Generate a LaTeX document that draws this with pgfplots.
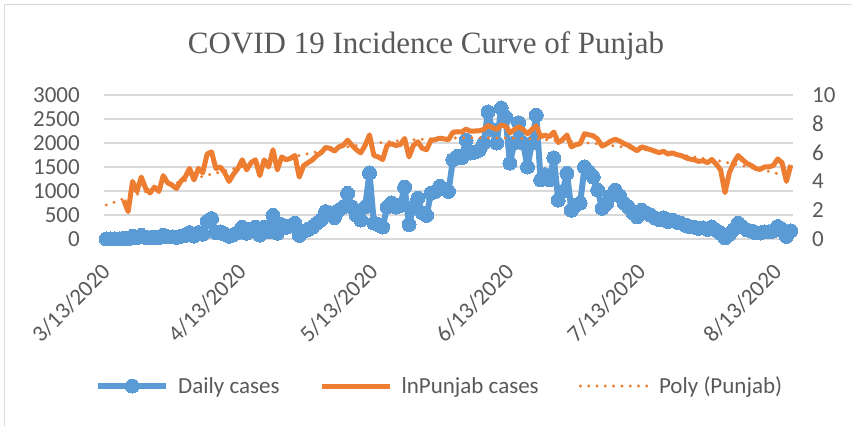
\documentclass[border=0pt]{standalone}
\usepackage{fontspec}
\setmainfont{Carlito}
\newfontfamily\titlefont{Liberation Serif}
\usepackage{pgfplots}
\usepackage{pgfplotstable}
\pgfplotsset{compat=1.18}
\definecolor{cblue}{HTML}{5B9BD5}
\definecolor{corange}{HTML}{ED7D31}
\definecolor{cgrid}{HTML}{D9D9D9}
\definecolor{ctext}{HTML}{595959}

\pgfplotstableread{
d v
0 2
1 1
2 4
3 1
4 15
5 7
6 55
7 27
8 74
9 33
10 25
11 37
12 27
13 81
14 49
15 43
16 33
17 55
18 74
19 134
20 60
21 134
22 100
23 365
24 424
25 134
26 148
27 100
28 55
29 90
30 134
31 245
32 121
33 200
34 245
35 81
36 245
37 148
38 493
39 121
40 300
41 245
42 270
43 330
44 74
45 164
46 200
47 245
48 330
49 400
50 570
51 545
52 445
53 600
54 665
55 950
56 670
57 493
58 395
59 665
60 1375
61 330
62 300
63 250
64 665
65 750
66 665
67 700
68 1080
69 300
70 665
71 850
72 545
73 493
74 950
75 990
76 1100
77 1040
78 990
79 1650
80 1720
81 1690
82 2060
83 1790
84 1810
85 1850
86 2000
87 2650
88 2270
89 2000
90 2730
91 2540
92 1580
93 2000
94 2420
95 2000
96 1500
97 2000
98 2580
99 1230
100 1340
101 1230
102 1690
103 810
104 990
105 1370
106 600
107 700
108 750
109 1500
110 1400
111 1290
112 1020
113 640
114 735
115 900
116 1020
117 900
118 750
119 665
120 545
121 460
122 600
123 545
124 500
125 445
126 403
127 440
128 365
129 395
130 350
131 330
132 285
133 257
134 245
135 220
136 230
137 200
138 250
139 181
140 121
141 25
142 100
143 200
144 330
145 245
146 190
147 164
148 134
149 125
150 148
151 150
152 164
153 260
154 200
155 55
156 170
}\dailytab

\pgfplotstableread{
d v
4 2.7
5 1.9
6 4.0
7 3.3
8 4.3
9 3.5
10 3.2
11 3.6
12 3.3
13 4.4
14 3.9
15 3.75
16 3.5
17 4.0
18 4.3
19 4.9
20 4.1
21 4.9
22 4.6
23 5.9
24 6.05
25 4.9
26 5.0
27 4.6
28 4.0
29 4.5
30 4.9
31 5.5
32 4.8
33 5.3
34 5.5
35 4.4
36 5.5
37 5.0
38 6.2
39 4.8
40 5.7
41 5.5
42 5.6
43 5.8
44 4.3
45 5.1
46 5.3
47 5.5
48 5.8
49 6.0
50 6.35
51 6.3
52 6.1
53 6.4
54 6.5
55 6.86
56 6.5
57 6.2
58 5.98
59 6.5
60 7.23
61 5.8
62 5.7
63 5.52
64 6.5
65 6.62
66 6.5
67 6.55
68 6.98
69 5.7
70 6.5
71 6.75
72 6.3
73 6.2
74 6.86
75 6.9
76 7.0
77 6.95
78 6.9
79 7.41
80 7.45
81 7.43
82 7.63
83 7.49
84 7.5
85 7.52
86 7.6
87 7.88
88 7.73
89 7.6
90 7.91
91 7.84
92 7.37
93 7.6
94 7.79
95 7.6
96 7.31
97 7.6
98 7.86
99 7.11
100 7.2
101 7.11
102 7.43
103 6.7
104 6.9
105 7.22
106 6.4
107 6.55
108 6.62
109 7.31
110 7.24
111 7.16
112 6.93
113 6.46
114 6.6
115 6.8
116 6.93
117 6.8
118 6.62
119 6.5
120 6.3
121 6.13
122 6.4
123 6.3
124 6.21
125 6.1
126 6.0
127 6.09
128 5.9
129 5.98
130 5.86
131 5.8
132 5.65
133 5.55
134 5.5
135 5.39
136 5.44
137 5.3
138 5.52
139 5.2
140 4.8
141 3.22
142 4.6
143 5.3
144 5.8
145 5.5
146 5.25
147 5.1
148 4.9
149 4.83
150 5.0
151 5.01
152 5.1
153 5.56
154 5.3
155 4.0
156 5.14
}\lntab

\pgfplotstableread{
d v
0 2.36
4 2.8
8 3.2
12 3.55
16 3.9
20 4.2
24 4.5
28 4.8
32 5.1
36 5.35
40 5.6
44 5.8
48 6.05
52 6.25
56 6.45
60 6.6
64 6.75
68 6.85
72 6.93
76 6.98
80 7.02
84 7.03
88 7.03
92 7.01
96 6.97
100 6.9
104 6.82
108 6.72
112 6.6
116 6.46
120 6.31
124 6.15
128 5.98
132 5.8
136 5.6
140 5.4
144 5.15
148 4.9
152 4.62
156 4.3
}\polytab

\begin{document}
\begin{tikzpicture}
\path[use as bounding box] (0,0) rectangle (852pt,426pt);
\draw[cgrid, line width=1pt] (4pt,0pt) -- (4pt,421pt) -- (852pt,421pt);
\node[anchor=base, text=ctext, font=\titlefont\fontsize{31}{36}\selectfont] at (426pt,372pt) {COVID 19 Incidence Curve of Punjab};
\begin{axis}[
  at={(104pt,187pt)}, anchor=south west,
  scale only axis, width=689pt, height=144pt,
  xmin=-0.5, xmax=156.5, ymin=0, ymax=3000,
  ytick={0,500,...,3000},
  xtick={0,31,61,92,122,153},
  xticklabels={3/13/2020,4/13/2020,5/13/2020,6/13/2020,7/13/2020,8/13/2020},
  ymajorgrids, grid style={cgrid, line width=1.6pt},
  axis line style={draw=none},
  major tick length=0pt,
  tick label style={font=\fontsize{23}{27}\selectfont, text=ctext},
  /pgf/number format/assume math mode=true,
  /pgf/number format/1000 sep={},
  yticklabel style={anchor=east, inner sep=0pt, xshift=-24pt},
  xticklabel style={yshift=-29pt, rotate=45, anchor=east, inner sep=0pt},
  clip=false,
]
\addplot[cblue, line width=6pt, line join=round, mark=*, mark size=7pt, mark options={fill=cblue, draw=cblue, line width=0pt}] table[x=d, y=v] {\dailytab};
\end{axis}
\begin{axis}[
  at={(104pt,187pt)}, anchor=south west,
  scale only axis, width=689pt, height=144pt,
  xmin=-0.5, xmax=156.5, ymin=0, ymax=10,
  axis y line*=right, axis x line=none,
  ytick={0,2,...,10},
  axis line style={draw=none},
  major tick length=0pt,
  tick label style={font=\fontsize{23}{27}\selectfont, text=ctext},
  /pgf/number format/assume math mode=true,
  yticklabel style={anchor=west, inner sep=0pt, xshift=19pt},
  legend columns=3,
  legend style={at={(-0.013,-1.021)}, anchor=west, draw=none, fill=none, inner sep=0pt,
    font=\fontsize{23}{27}\selectfont, text=ctext,
    nodes={inner sep=0pt},
    /tikz/every odd column/.append style={column sep=9pt},
    /tikz/every even column/.append style={column sep=40pt}},
  legend cell align=left,
  legend image code/.code={\draw[mark repeat=2, mark phase=2, #1] plot coordinates {(0pt,0pt) (34pt,0pt) (68pt,0pt)};},
]
\addlegendimage{cblue, line width=6pt, mark=*, mark size=7pt, mark options={fill=cblue, draw=cblue, line width=0pt}}
\addlegendentry{Daily cases}
\addplot[corange, line width=5pt, line join=round] table[x=d, y=v] {\lntab};
\addlegendentry{lnPunjab cases}
\addplot[corange, line width=3.3pt, line cap=round, dash pattern=on 0pt off 8.3pt] table[x=d, y=v] {\polytab};
\addlegendentry{Poly (Punjab)}
\end{axis}
\end{tikzpicture}
\end{document}
